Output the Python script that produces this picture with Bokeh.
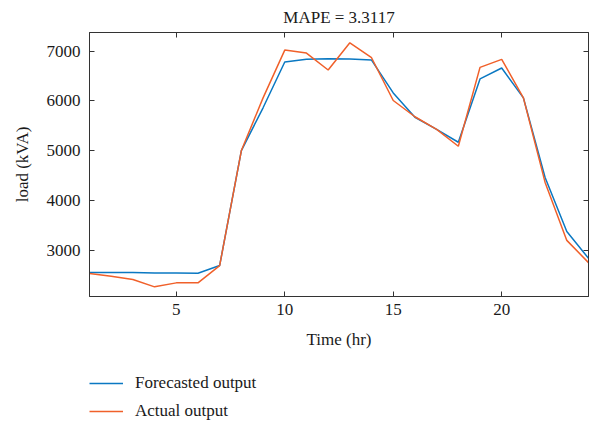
from bokeh.plotting import figure
from bokeh.layouts import column
from bokeh.models import Range1d, LinearAxis, Legend, LegendItem, FixedTicker, Title
from bokeh.embed import file_html
from bokeh.resources import INLINE

hours = list(range(1, 25))
forecast = [2550, 2550, 2550, 2540, 2540, 2535, 2690, 5000, 5860, 6780, 6834, 6847,
            6840, 6820, 6160, 5670, 5427, 5167, 6440, 6660, 6060, 4460, 3374, 2834]
actual = [2527, 2474, 2407, 2260, 2340, 2340, 2688, 5000, 6060, 7020, 6960, 6620,
          7167, 6867, 6007, 5680, 5427, 5087, 6673, 6834, 6060, 4360, 3194, 2747]
x_ticks = [5, 10, 15, 20]
y_ticks = [3000, 4000, 5000, 6000, 7000]
title_text = "MAPE = 3.3117"
x_label = "Time (hr)"
y_label = "load (kVA)"
legend_labels = ["Forecasted output", "Actual output"]

FONT = "Liberation Serif"
AX = "#333333"
TXT = "#1a1a1a"
FS = "17px"
BLUE = "#0A78C2"
ORANGE = "#F0602A"

p = figure(width=591, height=355, output_backend="svg", toolbar_location=None,
           x_range=Range1d(1, 24), y_range=Range1d(2066, 7374),
           min_border_left=89, min_border_right=3, min_border_top=31, min_border_bottom=59)
p.title = None
p.xgrid.visible = False
p.ygrid.visible = False
p.outline_line_color = AX
p.outline_line_width = 1
p.background_fill_color = "white"
p.border_fill_color = "white"

def style(ax):
    ax.axis_line_color = AX
    ax.major_tick_in = 5
    ax.major_tick_out = 0
    ax.minor_tick_in = 0
    ax.minor_tick_out = 0
    ax.major_tick_line_color = AX
    ax.major_label_text_font = FONT
    ax.major_label_text_font_size = FS
    ax.major_label_text_color = TXT
    ax.axis_label_text_font = FONT
    ax.axis_label_text_font_size = FS
    ax.axis_label_text_font_style = "normal"
    ax.axis_label_text_color = TXT

p.xaxis.ticker = FixedTicker(ticks=x_ticks)
p.yaxis.ticker = FixedTicker(ticks=y_ticks)
p.xaxis.axis_label = x_label
p.yaxis.axis_label = y_label
style(p.xaxis[0])
style(p.yaxis[0])
p.xaxis[0].major_label_standoff = 7
p.yaxis[0].major_label_standoff = 9
p.xaxis[0].axis_label_standoff = 12
p.yaxis[0].axis_label_standoff = 12

top = LinearAxis(ticker=FixedTicker(ticks=x_ticks), major_label_overrides={t: "" for t in x_ticks})
style(top)
top.major_label_standoff = 0
top.major_label_text_alpha = 0
p.add_layout(top, "above")
right = LinearAxis(ticker=FixedTicker(ticks=y_ticks), major_label_overrides={t: "" for t in y_ticks})
style(right)
right.major_label_standoff = 0
right.major_label_text_alpha = 0
p.add_layout(right, "right")

p.line(hours, forecast, line_color=BLUE, line_width=1.5)
p.line(hours, actual, line_color=ORANGE, line_width=1.5)

p.add_layout(Title(text=title_text, align="center", text_font=FONT, text_font_size=FS,
                   text_font_style="normal", text_color=TXT, offset=0, standoff=11), "above")

# legend strip below the chart (its frame is aligned with the chart's frame by the column)
lg = figure(width=591, height=66, output_backend="svg", toolbar_location=None,
            x_range=Range1d(0, 1), y_range=Range1d(0, 1),
            min_border_left=0, min_border_right=0, min_border_top=0, min_border_bottom=0)
lg.axis.visible = False
lg.grid.visible = False
lg.outline_line_color = None
lg.title = None
l1 = lg.line([5, 6], [5, 6], line_color=BLUE, line_width=1.5)
l2 = lg.line([5, 6], [5, 6], line_color=ORANGE, line_width=1.5)
legend = Legend(items=[LegendItem(label=legend_labels[0], renderers=[l1]),
                       LegendItem(label=legend_labels[1], renderers=[l2])],
                orientation="vertical", location=(0, 0),
                border_line_color=None, background_fill_alpha=0,
                label_text_font=FONT, label_text_font_size=FS, label_text_color=TXT,
                glyph_width=34, glyph_height=20, label_height=20, spacing=8,
                padding=0, margin=0, label_standoff=12)
lg.add_layout(legend, "center")

open("out.html", "w").write(file_html(column(p, lg, spacing=0), INLINE))
